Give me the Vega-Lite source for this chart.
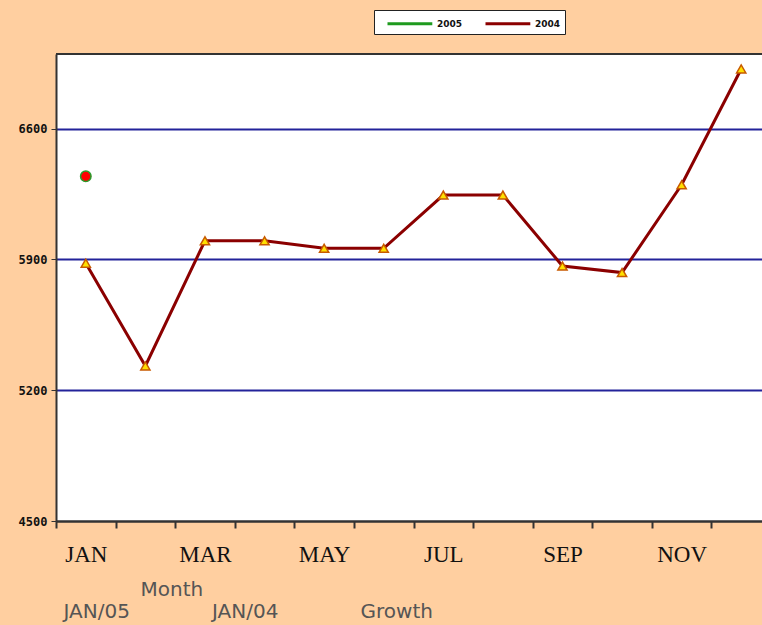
{
  "$schema": "https://vega.github.io/schema/vega-lite/v6.json",
  "autosize": {"type": "none"},
  "width": 706,
  "height": 467,
  "padding": {"left": 56, "top": 54, "right": 0, "bottom": 104},
  "background": "#FFCFA0",
  "config": {"view": {"stroke": null, "fill": "white"}},
  "datasets": {
    "sales": [
      {"month": "JAN", "year": "2005", "value": 6345},
      {"month": "JAN", "year": "2004", "value": 5880},
      {"month": "FEB", "year": "2004", "value": 5330},
      {"month": "MAR", "year": "2004", "value": 6000},
      {"month": "APR", "year": "2004", "value": 6000},
      {"month": "MAY", "year": "2004", "value": 5960},
      {"month": "JUN", "year": "2004", "value": 5960},
      {"month": "JUL", "year": "2004", "value": 6245},
      {"month": "AUG", "year": "2004", "value": 6245},
      {"month": "SEP", "year": "2004", "value": 5865},
      {"month": "OCT", "year": "2004", "value": 5830},
      {"month": "NOV", "year": "2004", "value": 6300},
      {"month": "DEC", "year": "2004", "value": 6920}
    ],
    "headers": [
      {"header": "JAN/05"},
      {"header": "JAN/04"},
      {"header": "Growth"}
    ]
  },
  "layer": [
    {
      "data": {"name": "sales"},
      "layer": [
        {
          "mark": {"type": "rule", "color": "#333333", "strokeWidth": 2},
          "encoding": {"y": {"datum": 7000, "type": "quantitative"}}
        },
        {
          "mark": {"type": "line", "strokeWidth": 3},
          "encoding": {
            "x": {
              "field": "month",
              "type": "ordinal",
              "sort": ["JAN","FEB","MAR","APR","MAY","JUN","JUL","AUG","SEP","OCT","NOV","DEC"],
              "scale": {"type": "point", "range": [0, 715], "padding": 0.5},
              "axis": {
                "title": null,
                "domainColor": "#333333",
                "domainWidth": 2,
                "tickColor": "#333333",
                "tickWidth": 2,
                "tickSize": 7,
                "tickOffset": -29.79,
                "labelOffset": 29.79,
                "labelExpr": "indexof(['JAN','MAR','MAY','JUL','SEP','NOV'], datum.value) >= 0 ? datum.value : ''",
                "labelOverlap": false,
                "labelBound": false,
                "labelFlush": false,
                "labelFont": "Liberation Serif",
                "labelFontSize": 23,
                "labelColor": "#111111",
                "labelBaseline": "top",
                "labelPadding": 15,
                "labelAngle": 0
              }
            },
            "y": {
              "field": "value",
              "type": "quantitative",
              "scale": {"domain": [4500, 7000], "nice": false, "zero": false},
              "axis": {
                "title": null,
                "values": [4500, 5200, 5900, 6600],
                "format": "d",
                "grid": true,
                "gridColor": {"condition": {"test": "datum.value === 4500", "value": "#333333"}, "value": "#23239A"},
                "gridWidth": 2,
                "gridOpacity": 1,
                "domainColor": "#333333",
                "domainWidth": 2,
                "tickColor": "#333333",
                "tickSize": 5,
                "labelFont": "DejaVu Sans Mono",
                "labelFontWeight": "bold",
                "labelFontSize": 12,
                "labelColor": "#111111",
                "labelPadding": 4
              }
            },
            "color": {
              "field": "year",
              "type": "nominal",
              "scale": {"domain": ["2005", "2004"], "range": ["#1E9A1E", "#8B0000"]},
              "legend": {
                "title": null,
                "orient": "none",
                "direction": "horizontal",
                "legendX": 318,
                "legendY": -44,
                "fillColor": "white",
                "strokeColor": "#222222",
                "padding": 4,
                "symbolType": "M0.0,0H5.6",
                "symbolSize": 256,
                "symbolStrokeWidth": 3,
                "labelFont": "DejaVu Sans",
                "labelFontSize": 9,
                "labelFontWeight": "bold",
                "labelColor": "#111111",
                "labelOffset": 40,
                "columnPadding": 13
              }
            }
          }
        },
        {
          "mark": {"type": "point", "filled": true, "size": 85, "strokeWidth": 1.5, "opacity": 1},
          "encoding": {
            "x": {"field": "month", "type": "ordinal", "sort": ["JAN","FEB","MAR","APR","MAY","JUN","JUL","AUG","SEP","OCT","NOV","DEC"]},
            "y": {"field": "value", "type": "quantitative"},
            "shape": {"condition": {"test": "datum.year === '2005'", "value": "circle"}, "value": "triangle-up"},
            "fill": {"condition": {"test": "datum.year === '2005'", "value": "#FF0000"}, "value": "#FFE000"},
            "stroke": {"condition": {"test": "datum.year === '2005'", "value": "#2A9A2A"}, "value": "#C85A00"},
            "size": {"condition": {"test": "datum.year === '2005'", "value": 110}, "value": 85}
          }
        }
      ]
    },
    {
      "data": {"name": "headers"},
      "mark": {"type": "text", "opacity": 0},
      "encoding": {
        "text": {"value": ""},
        "x": {
          "field": "header",
          "type": "nominal",
          "sort": ["JAN/05", "JAN/04", "Growth"],
          "scale": {"type": "point", "range": [7, 304], "padding": 0},
          "axis": {
            "orient": "bottom",
            "offset": 90,
            "domain": false,
            "ticks": false,
            "grid": false,
            "labelAngle": 0,
            "labelAlign": "left",
            "labelBaseline": "middle",
            "labelPadding": 0,
            "labelFont": "DejaVu Sans",
            "labelFontSize": 20,
            "labelColor": "#555555",
            "title": "Month",
            "titleFont": "DejaVu Sans",
            "titleFontSize": 20,
            "titleFontWeight": "normal",
            "titleColor": "#555555",
            "titleX": 84,
            "titleY": -22,
            "titleAlign": "left",
            "titleBaseline": "middle"
          }
        }
      }
    }
  ],
  "resolve": {"scale": {"x": "independent"}, "axis": {"x": "independent"}}
}
